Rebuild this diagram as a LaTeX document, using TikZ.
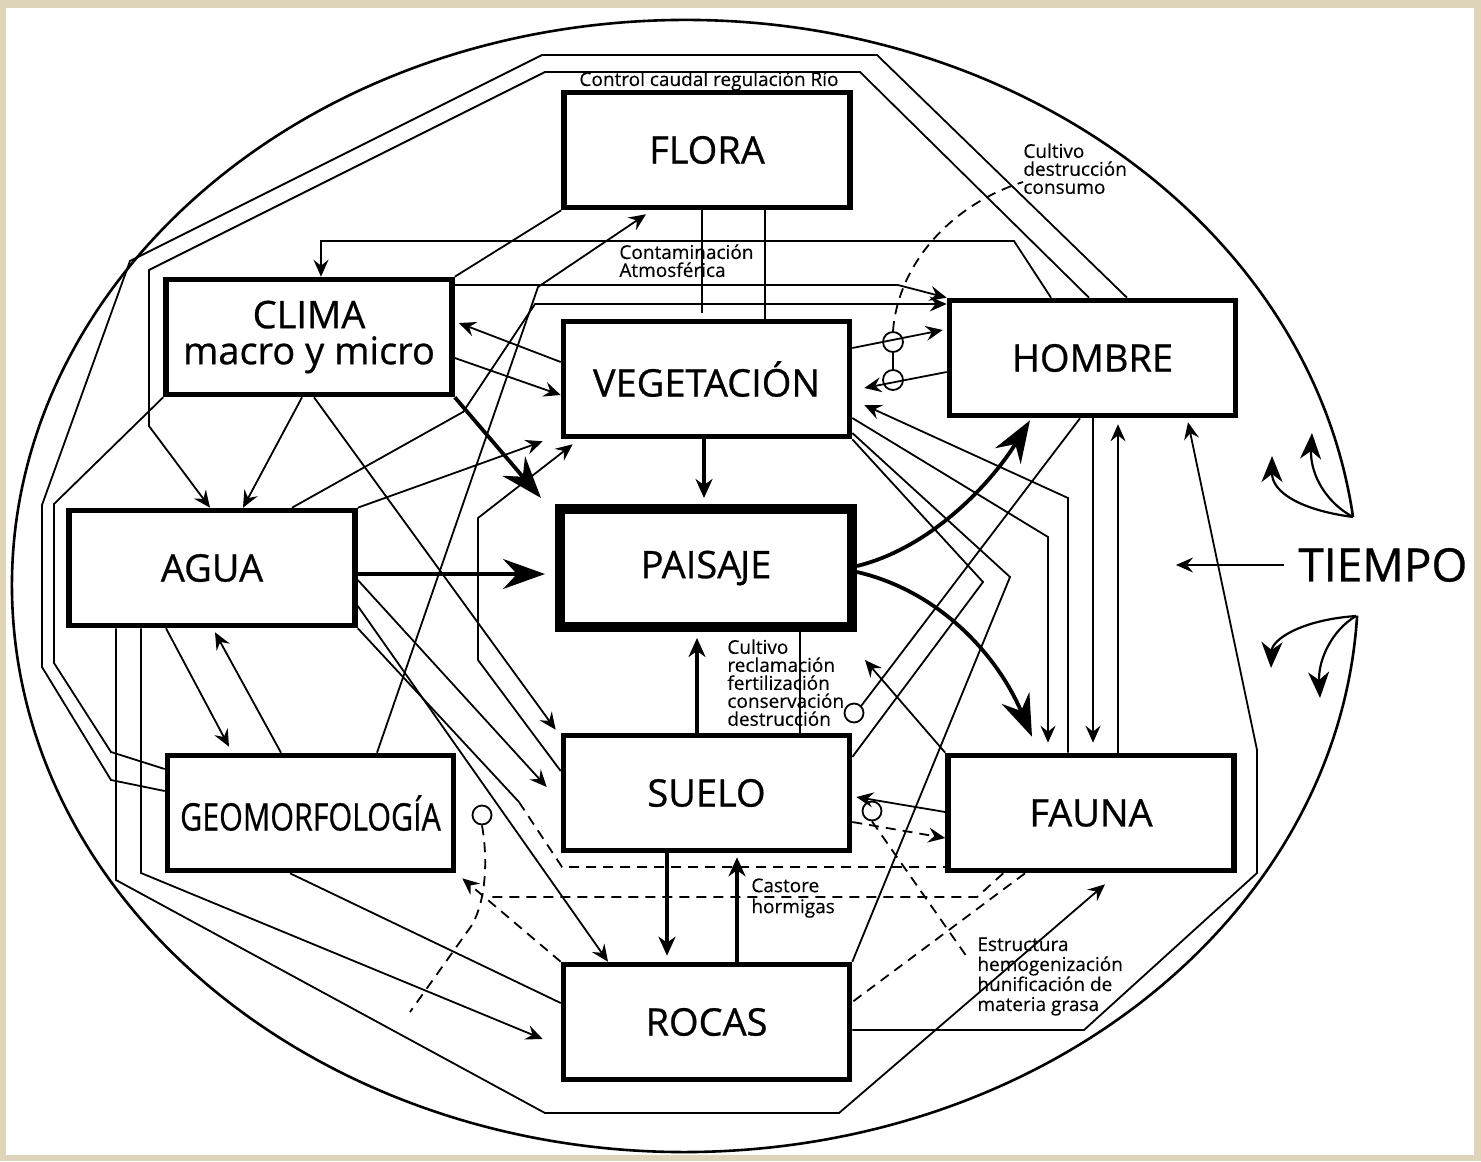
\documentclass[tikz,border=0pt]{standalone}
\usepackage{fontspec}
\setmainfont{Open Sans}
\newfontfamily\boxfont{Open Sans}[FakeBold=0.7]
\newfontfamily\lblfont{Open Sans}[FakeBold=0.3]
\usetikzlibrary{arrows.meta,calc}
\definecolor{frame}{RGB}{222,212,186}
\begin{document}
\begin{tikzpicture}[x=0.5pt,y=-0.5pt,
  box/.style={draw, line width=2.8pt, inner sep=0pt, minimum width=143pt, minimum height=57.5pt, align=center, font=\boxfont\fontsize{19}{17}\selectfont},
  ln/.style={line width=0.9pt},
  ar/.style={ln, -{Stealth[length=8.5pt,width=7.5pt,inset=3pt]}},
  medar/.style={line width=1.6pt, -{Stealth[length=9.5pt,width=8.5pt,inset=3pt]}},
  bigar/.style={line width=1.9pt, -{Stealth[length=21pt,width=15pt,inset=7pt]}},
  curlar/.style={line width=1.1pt, -{Stealth[length=13pt,width=10.5pt,inset=4pt]}},
  dsh/.style={ln, dash pattern=on 5pt off 3.5pt},
  circ/.style={draw, circle, line width=0.9pt, minimum size=9.5pt, inner sep=0pt},
  lbl/.style={font=\lblfont\fontsize{9.5}{9}\selectfont, align=left, inner sep=0pt},
]
\useasboundingbox (0,0) rectangle (1481,1161);
\fill[frame] (0,0) rectangle (1481,1161);
\fill[white] (6,8) rectangle (1474,1155);

% outer ellipse with gap for TIEMPO
\draw[line width=1.3pt] (1353,517) arc[start angle=-7, end angle=-357, x radius=673, y radius=566];
\coordinate (gt) at (1353,517);
\coordinate (gb) at (1356,616);
\draw[curlar] (gt) .. controls (1300,510) and (1272,492) .. (1272,456);
\draw[curlar] (gt) .. controls (1322,500) and (1310,470) .. (1312,433);
\draw[curlar] (gb) .. controls (1300,620) and (1272,640) .. (1271,668);
\draw[curlar] (gb) .. controls (1332,630) and (1318,660) .. (1320,698);

% boxes
\node[box] (flora) at (707,150) {FLORA};
\node[box] (clima) at (309,337) {CLIMA\\[1pt]macro y micro};
\node[box] (veg) at (706.5,379) {VEGETACIÓN};
\node[box] (hombre) at (1092.5,358) {HOMBRE};
\node[box] (agua) at (212,568) {AGUA};
\node[box, line width=5pt, minimum width=146pt, minimum height=59pt] (paisaje) at (706,568) {PAISA\kern-0.6pt JE};
\node[box] (geo) at (310.5,813) {\scalebox{0.8}[1]{GEOMORFOLOGÍA}};
\node[box] (suelo) at (706.5,793) {SUELO};
\node[box] (fauna) at (1091,813) {FAUNA};
\node[box] (rocas) at (706.5,1022) {ROCAS};

\node[font=\boxfont\fontsize{23}{25}\selectfont, anchor=west, inner sep=0pt] (tiempo) at (1298,565) {TIEMPO};
\draw[ar] ([xshift=-7pt]tiempo.west) -- (1176,0 |- tiempo.west);

% labels
\node[lbl, anchor=center] (lctrl) at (709,81) {Control caudal regulación Río};
\node[lbl, anchor=north west] (lcont) at (619,244) {Contaminación\\Atmosférica};
\node[lbl, anchor=north west] (lcons) at (1023,143) {Cultivo\\destrucción\\consumo};
\node[lbl, anchor=north west] (lcult) at (727,639) {Cultivo\\reclamación\\fertilización\\conservación\\destrucción};
\node[lbl, anchor=north west, font=\lblfont\fontsize{9.5}{10.5}\selectfont] (lcast) at (751,878) {Castore\\hormigas};
\node[lbl, anchor=north west, font=\lblfont\fontsize{9.5}{10}\selectfont] (lestr) at (977,937) {Estructura\\hemogenización\\hunificación de\\materia grasa};

% small circles
\node[circ, minimum size=10pt] (ch1) at (893,342) {};
\node[circ, minimum size=10pt] (ch2) at (893,380) {};
\node[circ] (cp) at (854,713) {};
\node[circ] (cg) at (482,815) {};
\node[circ] (cs) at (872,811) {};

% top connectors around FLORA
\draw[ln] (1127,0 |- hombre.north) -- (877,55) -- (542,55) -- (130,261) -- (42,505) -- (42,667) -- (111,780) -- (geo.west |- 0,791);
\draw[ar] (1089,0 |- hombre.north) -- (860,72) -- (545,72) -- (149,270) -- (149,426) -- (210,0 |- agua.north);
\draw[ar] (1051,0 |- hombre.north) -- (1014,241) -- (321,241) -- (321,0 |- clima.north);
\draw[ln] (clima.north east) -- (flora.south west);
\draw[ar] (clima.east |- 0,285) -- (898,285) -- (hombre.north west);
\draw[ar] (292,0 |- agua.north) -- (463,412) -- (535,304) -- (hombre.west |- 0,304);
\draw[ln] (702,0 |- flora.south) -- (702,313);
\draw[ln] (765,0 |- flora.south) -- (765,0 |- veg.north);
\draw[ar] (377,0 |- geo.north) -- (538,287) -- ($(646,0 |- flora.south)+(0,4)$);

% CLIMA / AGUA / VEGETACION
\draw[ar] (agua.north east) -- ($(veg.south west)+(-18,2)$);
\draw[ar] (veg.west |- 0,362) -- ($(clima.east |- 0,323)+(4,0)$);
\draw[ar] (clima.east |- 0,358) -- (veg.west |- 0,395);
\draw[ar] (suelo.west |- 0,771) -- (478,660) -- (478,518) -- ($(veg.south west)+(12,5)$);
\draw[bigar] (clima.south east) -- ($(paisaje.north west)+(-14,-6)$);
\draw[ar] (302,0 |- clima.south) -- (243,0 |- agua.north);
\draw[ar] (314,0 |- clima.south) -- ($(suelo.north west)+(-5,-3)$);
\draw[bigar] (agua.east |- 0,574) -- ($(paisaje.west |- 0,574)+(-10,0)$);
\draw[ar] (agua.east |- 0,580) -- ($(suelo.west |- 0,787)+(-14,0)$);
\draw[ar] (agua.east |- 0,606) -- (608,0 |- rocas.north);
\draw[ln] (agua.south east) -- (519,802);
\draw[dsh] (519,802) -- (562,867) -- (fauna.west |- 0,867);

% central vertical links
\draw[medar] (704,0 |- veg.south) -- ($(704,0 |- paisaje.north)+(0,-6)$);
\draw[medar] (697,0 |- suelo.north) -- ($(697,0 |- paisaje.south)+(0,6)$);
\draw[ln] (800,0 |- paisaje.south) -- (800,0 |- suelo.north);
\draw[medar] (667,0 |- suelo.south) -- ($(667,0 |- rocas.north)+(0,-6)$);
\draw[medar] (737,0 |- rocas.north) -- ($(737,0 |- suelo.south)+(0,4)$);

% lower left
\draw[ar] (166,0 |- agua.south) -- ($(229,0 |- geo.north)+(0,-6)$);
\draw[ar] (281,0 |- geo.north) -- ($(215,0 |- agua.south)+(0,4)$);
\draw[ln] (clima.south west) -- (54,504) -- (54,663) -- (111,752) -- (geo.west |- 0,769);
\draw[ar] (116,0 |- agua.south) -- (116,880) -- (545,1113) -- (839,1113) -- ($(1105,0 |- fauna.south)+(0,11)$);
\draw[ar] (141,0 |- agua.south) -- (141,873) -- ($(rocas.west |- 0,1039)+(-18,0)$);
\draw[ln] (290,0 |- geo.south) -- (rocas.west |- 0,1003);

% dashed relations
\draw[dsh] (cg.south) .. controls (488,860) and (486,900) .. (472,925) -- (410,1012);
\draw[dsh] ($(fauna.south west)+(58,0)$) -- (977,897) -- (488,897);
\draw[dsh, -{Stealth[length=8.5pt,width=7.5pt,inset=3pt]}] (rocas.north west) -- ($(geo.south east)+(6,5)$);
\draw[dsh] (1025,0 |- fauna.south) -- (rocas.east |- 0,1002);
\draw[dsh] (cs.south) -- (967,957);
\draw[dsh, -{Stealth[length=8.5pt,width=7.5pt,inset=3pt]}] (suelo.east |- 0,822) -- (fauna.west |- 0,838);
\draw[ar] (fauna.west |- 0,812) -- ($(suelo.east |- 0,797)+(4,0)$);

% right side
\draw[ar] (rocas.east |- 0,1030) -- (1084,1030) -- (1257,873) -- (1257,750) -- ($(1188,0 |- hombre.south)+(0,4)$);
\draw[ar] (1068,0 |- fauna.north) -- (1068,498) -- ($(veg.east |- 0,405)+(12,0)$);
\draw[ar] (veg.east |- 0,418) -- (1048,537) -- ($(1048,0 |- fauna.north)+(0,-10)$);
\draw[ln] (veg.east |- 0,433) -- (1010,577) -- (rocas.north east);
\draw[ln] (veg.south east) -- (983,582) -- (suelo.east |- 0,757);
\draw[ln] (1080,0 |- hombre.south) -- (cp.north east);
\draw[ar] (fauna.north west) -- (865,660);
\draw[bigar] (paisaje.east |- 0,566) .. controls (930,548) and (990,485) .. ($(1030,0 |- hombre.south)+(0,2)$);
\draw[bigar] (paisaje.east |- 0,572) .. controls (935,590) and (995,650) .. ($(1032,0 |- fauna.north)+(0,-16)$);
\draw[ar] (1093,0 |- hombre.south) -- ($(1093,0 |- fauna.north)+(0,-10)$);
\draw[ar] (1118,0 |- fauna.north) -- ($(1118,0 |- hombre.south)+(0,6)$);

% VEGETACION <-> HOMBRE with circles
\draw[ar] (veg.east |- 0,348) -- ($(hombre.west |- 0,330)+(-4,0)$);
\draw[ar] (hombre.west |- 0,372) -- ($(veg.east |- 0,388)+(12,0)$);
\draw[ln] (ch1.south) -- (ch2.north);
\draw[dsh] (ch1.north) .. controls (898,265) and (950,205) .. (lcons.west |- 0,182);

\end{tikzpicture}
\end{document}
